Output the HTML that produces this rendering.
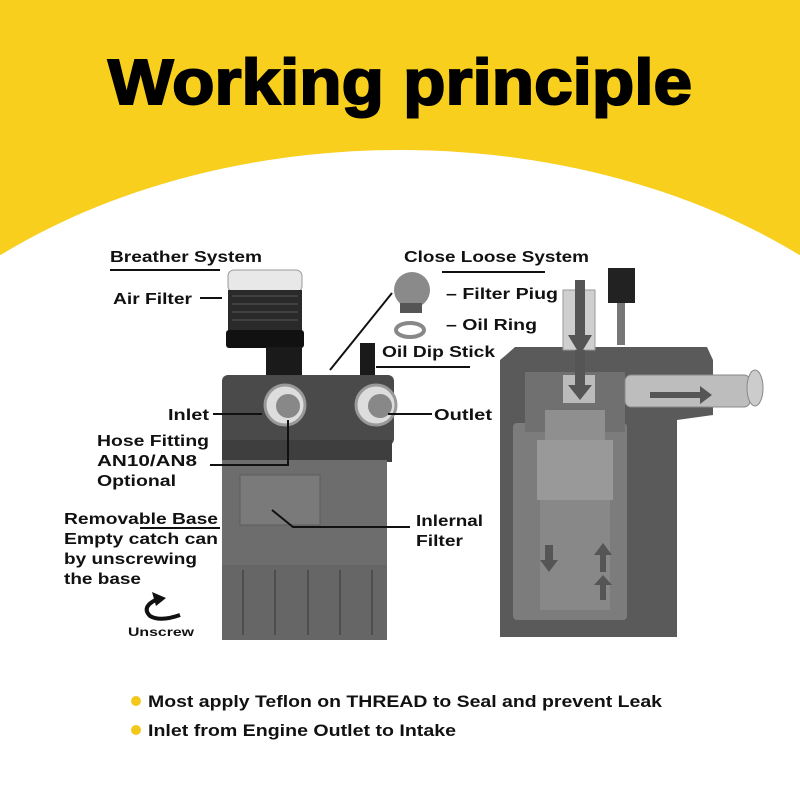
<!DOCTYPE html>
<html><head><meta charset="utf-8"><style>
html,body{margin:0;padding:0;background:#fff;width:800px;height:800px;overflow:hidden}
svg{display:block}
text{font-family:"Liberation Sans",sans-serif;font-weight:bold;fill:#111}
</style></head><body>
<svg width="800" height="800" viewBox="0 0 800 800" xmlns="http://www.w3.org/2000/svg">
<rect width="800" height="800" fill="#fff"/>
<rect width="800" height="300" fill="#F8CF1D"/>
<ellipse cx="400" cy="580" rx="610" ry="430" fill="#fff"/>
<text x="400" y="104" text-anchor="middle" font-size="64" textLength="584" lengthAdjust="spacingAndGlyphs" style="font-weight:900;fill:#000" stroke="#000" stroke-width="2">Working principle</text>

<!-- LEFT CAN -->
<rect x="228" y="270" width="74" height="22" rx="6" fill="#e8e8e8" stroke="#999"/>
<rect x="228" y="290" width="74" height="42" fill="#2a2a2a"/>
<g stroke="#555" stroke-width="1">
<line x1="232" y1="296" x2="298" y2="296"/><line x1="232" y1="304" x2="298" y2="304"/><line x1="232" y1="312" x2="298" y2="312"/><line x1="232" y1="320" x2="298" y2="320"/></g>
<rect x="226" y="330" width="78" height="18" rx="3" fill="#111"/>
<rect x="266" y="347" width="36" height="30" fill="#1a1a1a"/>
<rect x="360" y="343" width="15" height="34" fill="#1a1a1a"/>
<rect x="222" y="375" width="172" height="70" rx="6" fill="#4a4a4a"/>
<rect x="222" y="440" width="170" height="22" fill="#3e3e3e"/>
<rect x="222" y="460" width="165" height="180" fill="#6d6d6d"/>
<rect x="240" y="475" width="80" height="50" fill="#7a7a7a" stroke="#5d5d5d"/>
<rect x="222" y="565" width="165" height="75" fill="#666"/>
<g stroke="#4d4d4d" stroke-width="2"><line x1="243" y1="570" x2="243" y2="635"/><line x1="275" y1="570" x2="275" y2="635"/><line x1="308" y1="570" x2="308" y2="635"/><line x1="340" y1="570" x2="340" y2="635"/><line x1="372" y1="570" x2="372" y2="635"/></g>
<circle cx="285" cy="405" r="20" fill="#ddd" stroke="#999" stroke-width="3"/>
<circle cx="288" cy="406" r="12" fill="#888"/>
<circle cx="376" cy="405" r="20" fill="#ddd" stroke="#999" stroke-width="3"/>
<circle cx="380" cy="406" r="12" fill="#888"/>

<!-- filter plug, ring -->
<circle cx="412" cy="290" r="18" fill="#8a8a8a"/>
<rect x="400" y="303" width="22" height="10" fill="#555"/>
<ellipse cx="410" cy="330" rx="14" ry="7" fill="none" stroke="#888" stroke-width="4"/>

<!-- RIGHT CUTAWAY -->
<path d="M506 355 L515 347 L707 347 L713 360 L713 415 L677 420 L677 637 L500 637 L500 360 Z" fill="#5a5a5a"/>
<rect x="513" y="423" width="114" height="197" rx="4" fill="#7c7c7c"/>
<rect x="525" y="372" width="100" height="60" fill="#707070"/>
<rect x="545" y="410" width="60" height="70" fill="#8f8f8f"/>
<rect x="537" y="440" width="76" height="60" fill="#999"/>
<rect x="540" y="500" width="70" height="110" fill="#888"/>
<rect x="563" y="290" width="32" height="60" fill="#cfcfcf" stroke="#999"/>
<rect x="563" y="375" width="32" height="28" fill="#bbb"/>
<rect x="608" y="268" width="27" height="35" fill="#222"/>
<rect x="617" y="303" width="8" height="42" fill="#777"/>
<rect x="625" y="375" width="125" height="32" rx="6" fill="#bdbdbd" stroke="#888"/>
<ellipse cx="755" cy="388" rx="8" ry="18" fill="#ccc" stroke="#888"/>
<g fill="#555">
<polygon points="575,280 585,280 585,335 592,335 580,355 568,335 575,335"/>
<polygon points="575,350 585,350 585,385 592,385 580,400 568,385 575,385"/>
<polygon points="650,392 700,392 700,386 712,395 700,404 700,398 650,398"/>
<polygon points="545,545 553,545 553,560 558,560 549,572 540,560 545,560"/>
<polygon points="600,572 606,572 606,555 612,555 603,543 594,555 600,555"/>
<polygon points="600,600 606,600 606,585 612,585 603,575 594,585 600,585"/>
</g>

<!-- leader lines -->
<g stroke="#111" stroke-width="2" fill="none">
<line x1="110" y1="270" x2="220" y2="270"/>
<line x1="200" y1="298" x2="222" y2="298"/>
<line x1="442" y1="272" x2="545" y2="272"/>
<polyline points="392,293 330,370"/>
<polyline points="376,367 470,367"/>
<line x1="213" y1="414" x2="262" y2="414"/>
<line x1="388" y1="414" x2="432" y2="414"/>
<polyline points="210,465 288,465 288,420"/>
<polyline points="272,510 293,527 410,527"/>
<line x1="140" y1="528" x2="220" y2="528"/>
</g>

<!-- labels -->
<g font-size="16">
<text x="110" y="262" textLength="152" lengthAdjust="spacingAndGlyphs">Breather System</text>
<text x="404" y="262" textLength="185" lengthAdjust="spacingAndGlyphs">Close Loose System</text>
<text x="113" y="304" textLength="79" lengthAdjust="spacingAndGlyphs">Air Filter</text>
<text x="446" y="299" textLength="112" lengthAdjust="spacingAndGlyphs">– Filter Piug</text>
<text x="446" y="330" textLength="91" lengthAdjust="spacingAndGlyphs">– Oil Ring</text>
<text x="382" y="357" textLength="113" lengthAdjust="spacingAndGlyphs">Oil Dip Stick</text>
<text x="168" y="420" textLength="41" lengthAdjust="spacingAndGlyphs">Inlet</text>
<text x="434" y="420" textLength="58" lengthAdjust="spacingAndGlyphs">Outlet</text>
<text x="97" y="446" textLength="112" lengthAdjust="spacingAndGlyphs">Hose Fitting</text>
<text x="97" y="466" textLength="100" lengthAdjust="spacingAndGlyphs">AN10/AN8</text>
<text x="97" y="486" textLength="79" lengthAdjust="spacingAndGlyphs">Optional</text>
<text x="64" y="524" textLength="154" lengthAdjust="spacingAndGlyphs">Removable Base</text>
<text x="64" y="544" textLength="154" lengthAdjust="spacingAndGlyphs">Empty catch can</text>
<text x="64" y="564" textLength="133" lengthAdjust="spacingAndGlyphs">by unscrewing</text>
<text x="64" y="584" textLength="77" lengthAdjust="spacingAndGlyphs">the base</text>
<text x="416" y="526" textLength="67" lengthAdjust="spacingAndGlyphs">Inlernal</text>
<text x="416" y="546" textLength="47" lengthAdjust="spacingAndGlyphs">Filter</text>
<text x="128" y="636" font-size="12" textLength="66" lengthAdjust="spacingAndGlyphs">Unscrew</text>
</g>
<path d="M160 598 Q140 606 150 616 Q160 622 180 615" fill="none" stroke="#111" stroke-width="4"/>
<polygon points="152,592 166,598 156,606" fill="#111"/>

<!-- bullets -->
<circle cx="136" cy="701" r="5" fill="#F4C81A"/>
<circle cx="136" cy="730" r="5" fill="#F4C81A"/>
<text x="148" y="707" font-size="17" textLength="514" lengthAdjust="spacingAndGlyphs">Most apply Teflon on THREAD to Seal and prevent Leak</text>
<text x="148" y="736" font-size="17" textLength="308" lengthAdjust="spacingAndGlyphs">Inlet from Engine Outlet to Intake</text>
</svg>
</body></html>
